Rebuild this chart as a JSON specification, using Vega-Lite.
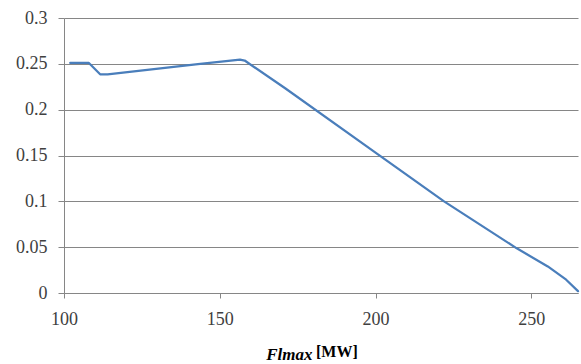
{
  "$schema": "https://vega.github.io/schema/vega-lite/v6.json",
  "width": 514,
  "height": 275,
  "autosize": {"type": "none"},
  "padding": {"left": 64, "top": 18, "right": 3, "bottom": 71},
  "background": "white",
  "config": {
    "view": {"stroke": null},
    "font": "Liberation Serif",
    "axis": {"labelFont": "Liberation Serif", "titleFont": "Liberation Serif", "labelFontSize": 18}
  },
  "title": {
    "text": "[MW]",
    "orient": "bottom",
    "anchor": "start",
    "frame": "group",
    "dx": 252,
    "dy": -18,
    "offset": 0,
    "fontSize": 16,
    "fontWeight": "bold",
    "color": "#000000",
    "font": "Liberation Serif"
  },
  "data": {
    "values": [
      {"flmax": 102, "v": 0.251},
      {"flmax": 108, "v": 0.251},
      {"flmax": 111.6, "v": 0.2386},
      {"flmax": 114, "v": 0.2386},
      {"flmax": 143, "v": 0.2498},
      {"flmax": 155, "v": 0.2540},
      {"flmax": 156.5, "v": 0.2546},
      {"flmax": 158, "v": 0.2536},
      {"flmax": 171, "v": 0.2234},
      {"flmax": 200, "v": 0.1532},
      {"flmax": 222, "v": 0.1000},
      {"flmax": 245.2, "v": 0.049},
      {"flmax": 255.3, "v": 0.029},
      {"flmax": 261.2, "v": 0.0145},
      {"flmax": 265, "v": 0.002}
    ]
  },
  "mark": {"type": "line", "color": "#4a7ebb", "strokeWidth": 2.25, "strokeCap": "round", "strokeJoin": "round"},
  "encoding": {
    "x": {
      "field": "flmax",
      "type": "quantitative",
      "scale": {"domain": [100, 265], "nice": false, "zero": false},
      "axis": {
        "values": [100, 150, 200, 250],
        "grid": false,
        "domainColor": "#868686",
        "tickColor": "#868686",
        "tickSize": 5,
        "labelFontSize": 18,
        "labelColor": "#404040",
        "labelPadding": 12,
        "labelFlush": false,
        "title": "Flmax",
        "titleFontSize": 17,
        "titleFontStyle": "italic",
        "titleFontWeight": "bold",
        "titleColor": "#000000",
        "titleAnchor": "end",
        "titleAlign": "right",
        "titleX": 248,
        "titleY": 66,
        "titleBaseline": "alphabetic"
      }
    },
    "y": {
      "field": "v",
      "type": "quantitative",
      "scale": {"domain": [0, 0.3], "nice": false},
      "axis": {
        "values": [0, 0.05, 0.1, 0.15, 0.2, 0.25, 0.3],
        "format": "~g",
        "grid": true,
        "gridColor": "#868686",
        "gridOpacity": 1,
        "domainColor": "#868686",
        "tickColor": "#868686",
        "tickSize": 6,
        "labelFontSize": 18,
        "labelColor": "#404040",
        "labelPadding": 11,
        "labelFlush": false,
        "title": null
      }
    }
  }
}
